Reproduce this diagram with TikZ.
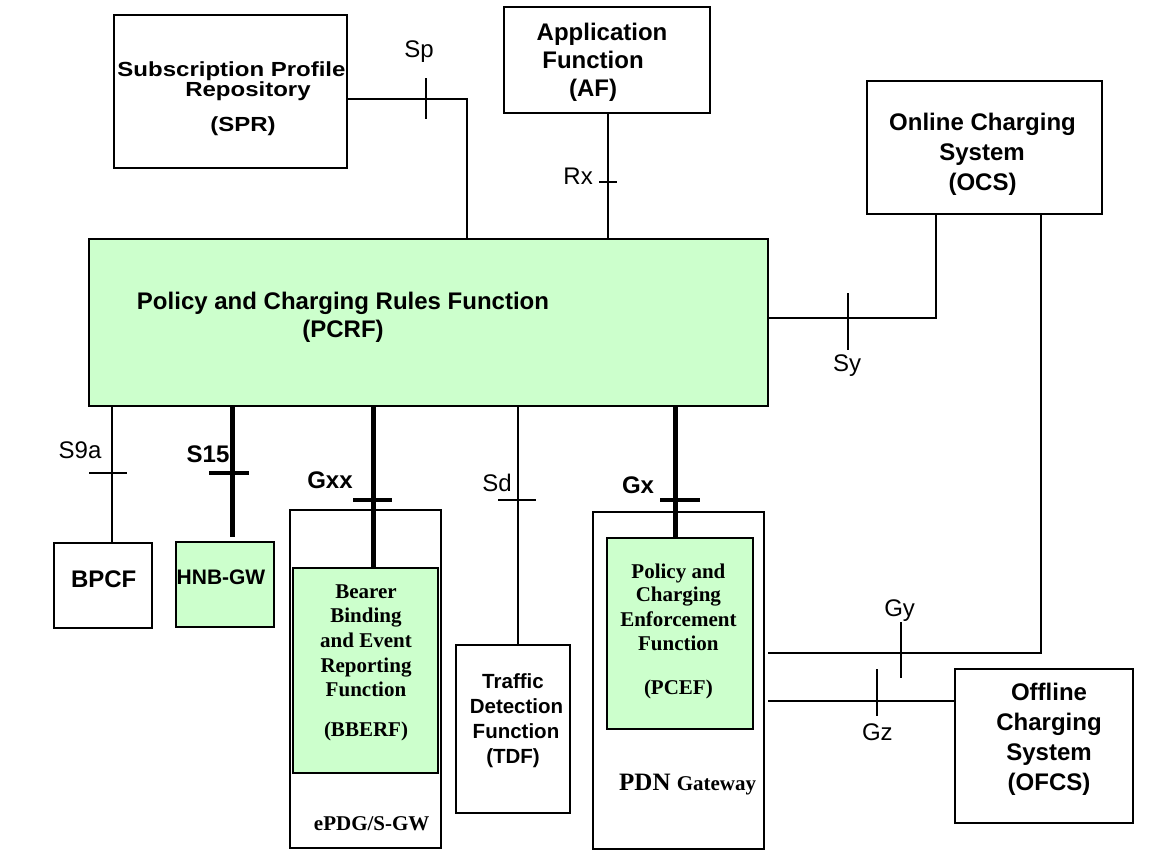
\documentclass[tikz,border=0pt]{standalone}
\usepackage{fontspec}
\usepackage{graphicx}
\setmainfont{Liberation Sans}
\newfontfamily\timesf{Liberation Serif}
\usetikzlibrary{fit}
\definecolor{pgreen}{HTML}{CCFFCC}
\begin{document}
\begin{tikzpicture}[x=1pt,y=-1pt,
  box/.style={draw, line width=1.3pt, inner sep=0pt, outer sep=0pt},
  gbox/.style={box, fill=pgreen},
  conn/.style={line width=1.3pt},
  thickconn/.style={line width=5pt},
  tick/.style={line width=1.2pt},
  thicktick/.style={line width=3.6pt},
  txt/.style={anchor=base, inner sep=0pt, font=\fontsize{24}{28}\selectfont\bfseries},
  stxt/.style={anchor=base, inner sep=0pt, font=\fontsize{20.5}{24}\selectfont\bfseries},
  ser/.style={anchor=base, inner sep=0pt, font=\fontsize{21}{24}\selectfont\timesf\bfseries},
  lab/.style={anchor=base, inner sep=0pt, font=\fontsize{24}{28}\selectfont},
  blab/.style={anchor=base, inner sep=0pt, font=\fontsize{24}{28}\selectfont\bfseries}]
\useasboundingbox (0,0) rectangle (1164,859);

% ---------------- boxes ----------------
\node[box,  fit={(114,15) (347,168)}] (spr) {};
\node[box,  fit={(504,7) (710,113)}] (af) {};
\node[box,  fit={(867,81) (1102,214)}] (ocs) {};
\node[gbox, fit={(89,239) (768,406)}] (pcrf) {};
\node[box,  fit={(54,543) (152,628)}] (bpcf) {};
\node[gbox, fit={(176,542) (274,627)}] (hnb) {};
\node[box,  fit={(290,510) (441,848)}] (epdg) {};
\node[gbox, line width=2pt, fit={(293,568) (438,773)}] (bberf) {};
\node[box,  fit={(456,645) (570,813)}] (tdf) {};
\node[box,  fit={(593,512) (764,849)}] (pdn) {};
\node[gbox, line width=1.6pt, fit={(607,538) (753,729)}] (pcef) {};
\node[box,  fit={(955,669) (1133,823)}] (ofcs) {};

% ---------------- box texts ----------------
\node[txt] (spr1) at (231.5,76) {\scalebox{1}[0.85]{Subscription Profile}};
\node[txt] (spr2) at (248,96) {\scalebox{1}[0.85]{Repository}};
\node[txt] (spr3) at (243,131) {\scalebox{1}[0.85]{(SPR)}};

\node[txt] (af1) at (602,41) {Application};
\node[txt] (af2) at (593,68) {Function};
\node[txt] (af3) at (593,96) {(AF)};

\node[txt] (ocs1) at (982.5,130) {Online Charging};
\node[txt] (ocs2) at (982,160) {System};
\node[txt] (ocs3) at (982.5,190) {(OCS)};

\node[txt] (pcrf1) at (343,309) {Policy and Charging Rules Function};
\node[txt] (pcrf2) at (343,337) {(PCRF)};

\node[txt] (bpcf1) at (103.7,587) {BPCF};
\node[stxt, font=\fontsize{21}{24}\selectfont\bfseries] (hnb1) at (221,584) {HNB-GW};

\node[ser] (bb1) at (366,598) {Bearer};
\node[ser] (bb2) at (366,622.5) {Binding};
\node[ser] (bb3) at (366,647) {and Event};
\node[ser] (bb4) at (366,672) {Reporting};
\node[ser] (bb5) at (366,696.5) {Function};
\node[ser] (bb6) at (366,736.5) {(BBERF)};
\node[ser] (epdg1) at (371.7,830) {ePDG/S-GW};

\node[stxt] (tdf1) at (513,688) {Traffic};
\node[stxt] (tdf2) at (516.5,713) {Detection};
\node[stxt] (tdf3) at (516,738) {Function};
\node[stxt] (tdf4) at (513,763) {(TDF)};

\node[ser] (pc1) at (678.4,578) {Policy and};
\node[ser] (pc2) at (678.4,601.7) {Charging};
\node[ser] (pc3) at (678.4,626.7) {Enforcement};
\node[ser] (pc4) at (678.4,650.7) {Function};
\node[ser] (pc5) at (678.4,694) {(PCEF)};
\node[ser, anchor=base west] (pdn1) at (619,790) {\fontsize{25}{28}\selectfont PDN \fontsize{21}{24}\selectfont Gateway};

\node[txt] (of1) at (1049,700.7) {Offline};
\node[txt] (of2) at (1049,730.7) {Charging};
\node[txt] (of3) at (1049,760.7) {System};
\node[txt] (of4) at (1049,790.7) {(OFCS)};

% ---------------- connectors ----------------
\coordinate (spbend) at (467,99);
\draw[conn] (spr.east |- spbend) -- (spbend) -- (pcrf.north -| spbend);

\coordinate (rxx) at (608,0);
\draw[conn] (af.south -| rxx) -- (pcrf.north -| rxx);

\coordinate (sybend) at (936,318);
\draw[conn] (pcrf.east |- sybend) -- (sybend) -- (ocs.south -| sybend);

\coordinate (gybend) at (1041,653);
\coordinate (gystart) at (768,653);
\draw[conn] (ocs.south -| gybend) -- (gybend) -- (gystart);

\coordinate (gzstart) at (768,701);
\draw[conn] (gzstart) -- (ofcs.west |- gzstart);

\coordinate (s9ax) at (112,0);
\draw[conn] (pcrf.south -| s9ax) -- (bpcf.north -| s9ax);

\coordinate (s15end) at (232,537);
\draw[thickconn] (pcrf.south -| s15end) -- (s15end);

\coordinate (gxxx) at (373,0);
\draw[thickconn] (pcrf.south -| gxxx) -- (bberf.north -| gxxx);

\coordinate (sdx) at (518,0);
\draw[conn] (pcrf.south -| sdx) -- (tdf.north -| sdx);

\coordinate (gxx) at (675,0);
\draw[thickconn] (pcrf.south -| gxx) -- (pcef.north -| gxx);

% ---------------- ticks ----------------
\draw[tick] (426,78) -- (426,119);
\draw[tick] (599,182) -- (617,182);
\draw[tick] (848,293) -- (848,350);
\draw[tick] (901,622) -- (901,678);
\draw[tick] (877,669) -- (877,716);
\draw[tick] (89,473) -- (127,473);
\draw[thicktick] (209,473) -- (249,473);
\draw[thicktick] (353,500) -- (392,500);
\draw[tick] (498,500) -- (536,500);
\draw[thicktick] (660,500) -- (700,500);

% ---------------- interface labels ----------------
\node[lab] (sp) at (419,58) {Sp};
\node[lab, anchor=base east] (rx) at (593,184) {Rx};
\node[lab] (sy) at (847,371.7) {Sy};
\node[lab] (gy) at (899.6,616.7) {Gy};
\node[lab] (gz) at (877.4,740) {Gz};
\node[lab] (s9a) at (80,458) {S9a};
\node[blab] (s15) at (208,462) {S15};
\node[blab] (gxxl) at (330,488) {Gxx};
\node[lab, anchor=base east] (sd) at (512,491) {Sd};
\node[blab] (gxl) at (638,493) {Gx};
\end{tikzpicture}
\end{document}
